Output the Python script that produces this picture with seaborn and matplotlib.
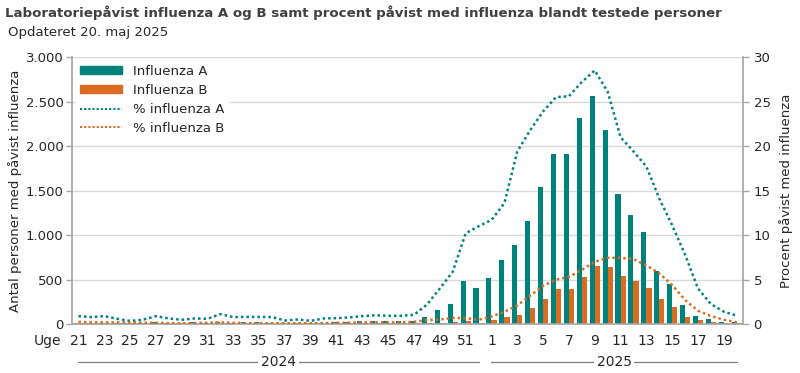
import numpy as np
import pandas as pd
import seaborn as sns
import matplotlib
matplotlib.use("Agg")
import matplotlib.pyplot as plt
from matplotlib.ticker import FuncFormatter, FixedLocator
from matplotlib.transforms import blended_transform_factory
from matplotlib.patches import Patch
from matplotlib.lines import Line2D

# weeks 21-52 of 2024 and 1-20 of 2025
weeks_2024 = list(range(21, 53))
weeks_2025 = list(range(1, 21))
weeks = weeks_2024 + weeks_2025

# number of persons with confirmed influenza
influenza_a = [10, 8, 8, 8, 8, 10, 20, 12, 10, 20, 15, 20, 18, 20, 20, 15,
               12, 10, 10, 18, 20, 22, 35, 32, 35, 32, 35, 75, 155, 225, 483, 405,
               517, 719, 888, 1157, 1539, 1910, 1910, 2315, 2562, 2180,
               1462, 1226, 1035, 596, 450, 214, 94, 56, 26, 25]
influenza_b = [12, 10, 8, 8, 8, 6, 6, 5, 5, 6, 6, 8, 6, 5, 5, 5,
               5, 5, 5, 6, 6, 6, 8, 8, 8, 8, 8, 10, 10, 20, 32, 10,
               45, 80, 101, 176, 277, 390, 390, 529, 652, 641,
               540, 484, 405, 285, 191, 82, 49, 26, 15, 10]

# percent positive among tested persons
pct_a = [0.9, 0.79, 0.9, 0.6, 0.36, 0.5, 0.9, 0.64, 0.49, 0.64, 0.6, 1.12,
         0.79, 0.82, 0.82, 0.79, 0.41, 0.52, 0.37, 0.64, 0.67, 0.75, 0.9, 1.0,
         0.94, 0.94, 1.05, 2.2, 4.0, 5.9, 10.2, 11.0,
         11.7, 13.6, 19.4, 21.8, 23.9, 25.5, 25.6, 27.2, 28.5, 26.1,
         21.0, 19.4, 17.7, 14.1, 11.1, 7.8, 4.0, 2.25, 1.4, 0.95]
pct_b = [0.25, 0.2, 0.2, 0.2, 0.2, 0.15, 0.15, 0.1, 0.1, 0.1, 0.15, 0.2,
         0.15, 0.1, 0.1, 0.1, 0.1, 0.1, 0.1, 0.1, 0.15, 0.15, 0.2, 0.2,
         0.2, 0.2, 0.26, 0.45, 0.52, 0.71, 0.67, 0.49,
         0.86, 1.38, 2.1, 3.2, 4.3, 5.0, 5.3, 6.1, 7.0, 7.45,
         7.45, 7.3, 6.6, 5.7, 4.4, 2.7, 1.5, 0.9, 0.5, 0.2]

teal = "#00827c"
orange = "#d86c20"
grey = "#a6a6a6"
text_col = "#262626"

df = pd.DataFrame({
    "Uge": [str(w) for w in weeks] * 2,
    "Antal": influenza_a + influenza_b,
    "Type": ["Influenza A"] * len(weeks) + ["Influenza B"] * len(weeks),
})

sns.set_theme(style="white")
plt.rcParams["font.family"] = ["DejaVu Sans"]
plt.rcParams["text.color"] = text_col
plt.rcParams["axes.labelcolor"] = text_col
plt.rcParams["xtick.color"] = text_col
plt.rcParams["ytick.color"] = text_col

fig = plt.figure(figsize=(8, 3.73), dpi=100)
ax = fig.add_axes([0.09, 0.131, 0.839, 0.716])

sns.barplot(data=df, x="Uge", y="Antal", hue="Type", order=[str(w) for w in weeks],
            palette=[teal, orange], width=0.8, gap=0, saturation=1,
            linewidth=0, legend=False, ax=ax)

ax.set_ylim(0, 3000)
ax.set_xlim(-0.5, len(weeks) - 0.5)
ax.yaxis.set_major_locator(FixedLocator(np.arange(0, 3001, 500)))
ax.yaxis.set_major_formatter(FuncFormatter(lambda v, p: f"{int(v):,}".replace(",", ".")))
ax.grid(axis="y", color="#d9d9d9", lw=1)
ax.set_axisbelow(True)

# x ticks: labels on odd weeks, tick marks on category edges
ax.set_xticks(range(len(weeks)))
ax.set_xticklabels([str(w) if w % 2 == 1 else "" for w in weeks], fontsize=10)
ax.tick_params(axis="x", which="major", length=0, pad=7)
ax.set_xticks(np.arange(-0.5, len(weeks)), minor=True)
ax.tick_params(axis="x", which="minor", length=5, color=grey, width=1)
ax.tick_params(axis="y", length=4, color=grey, width=1, labelsize=9.5, pad=2)
ax.set_xlabel("")
ax.set_ylabel("Antal personer med påvist influenza", fontsize=9.5, labelpad=3)

for s in ["top", "right"]:
    ax.spines[s].set_visible(False)
for s in ["left", "bottom"]:
    ax.spines[s].set_color(grey)

ax2 = ax.twinx()
ax2.plot(range(len(weeks)), pct_a, color=teal, lw=1.8, ls=(0, (1, 1.2)))
ax2.plot(range(len(weeks)), pct_b, color=orange, lw=1.8, ls=(0, (1, 1.2)))
ax2.set_ylim(0, 30)
ax2.set_yticks(range(0, 31, 5))
ax2.tick_params(axis="y", length=4, color=grey, width=1, labelsize=9.5)
ax2.set_ylabel("Procent påvist med influenza", fontsize=9.5, labelpad=6)
for s in ["top", "left", "bottom"]:
    ax2.spines[s].set_visible(False)
ax2.spines["right"].set_color(grey)

handles = [
    Patch(color=teal, label="Influenza A"),
    Patch(color=orange, label="Influenza B"),
    Line2D([], [], color=teal, lw=1.5, ls=(0, (1, 1)), label="% influenza A"),
    Line2D([], [], color=orange, lw=1.5, ls=(0, (1, 1)), label="% influenza B"),
]
leg = ax2.legend(handles=handles, loc="upper left", bbox_to_anchor=(0.0, 1.0),
                 frameon=True, fancybox=False, edgecolor="white", framealpha=1,
                 fontsize=9.5, handlelength=3.2, handleheight=0.55,
                 labelspacing=0.45, borderaxespad=0.2)

# "Uge" label and year brackets
fig.text(0.077, 0.085, "Uge", ha="right", va="center", fontsize=10)
trans = blended_transform_factory(ax.transData, fig.transFigure)
yr_y = 0.03
n24 = len(weeks_2024)
for x0, x1, label in [(0, n24 - 1, "2024"), (n24, len(weeks) - 1, "2025")]:
    ax.plot([x0, x1], [yr_y, yr_y], transform=trans, color="#7f7f7f", lw=0.9, clip_on=False)
    ax.text((x0 + x1) / 2, yr_y, label, transform=trans, ha="center", va="center",
            fontsize=10, bbox=dict(facecolor="white", edgecolor="none", pad=2))

fig.text(0.006, 0.965, "Laboratoriepåvist influenza A og B samt procent påvist med influenza blandt testede personer",
         fontsize=9.6, fontweight="bold", color="#404040", ha="left", va="center")
fig.text(0.01, 0.912, "Opdateret 20. maj 2025", fontsize=9.5, ha="left", va="center")

fig.savefig("out.png", dpi=100)
